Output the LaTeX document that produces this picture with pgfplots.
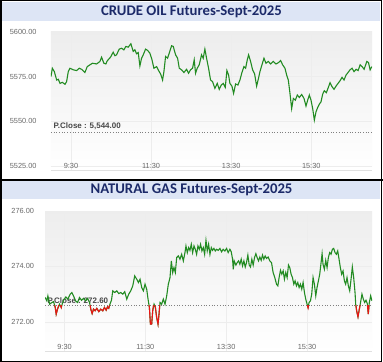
\documentclass[border=0pt]{standalone}
\usepackage{pgfplots}
\pgfplotsset{compat=1.18}
\usepackage{fontspec}
\setmainfont{Liberation Sans}
\newfontfamily\titlefont{Carlito}
\definecolor{barblue}{RGB}{221,229,245}
\definecolor{titlenavy}{RGB}{28,42,105}
\definecolor{linegreen}{RGB}{34,139,34}
\definecolor{linered}{RGB}{235,20,20}
\definecolor{ticktext}{RGB}{105,105,105}
\pgfplotsset{
  chartstyle/.style={
    scale only axis,
    axis background/.style={shade, top color=black!7, bottom color=white},
    axis x line*=bottom, axis y line*=left,
    x axis line style={draw=black!12},
    y axis line style={draw=none},
    major tick length=0pt,
    grid=major, major grid style={draw=black!7, line width=0.5pt},
    xtick={30,150,270,390},
    xticklabels={9:30,11:30,13:30,15:30},
    xticklabel style={anchor=center, yshift=4.5bp},
    tick label style={font=\fontsize{7.4}{8}\selectfont, text=ticktext},
    /pgf/number format/assume math mode=true,
    /pgf/number format/fixed,
    /pgf/number format/fixed zerofill,
    /pgf/number format/precision=2,
    /pgf/number format/1000 sep={},
  }
}
\begin{document}
\begin{tikzpicture}
\useasboundingbox (0,0) rectangle (383bp,362bp);
\fill[white] (0,0) rectangle (383bp,362bp);
% title bars
\fill[barblue] (2bp,341bp) rectangle (380bp,360bp);
\node[font=\titlefont\bfseries\fontsize{14.8}{16}\selectfont, text=titlenavy] at (191.5bp,350.5bp) {CRUDE OIL Futures-Sept-2025};
\fill[barblue] (2bp,163bp) rectangle (380bp,181bp);
\node[font=\titlefont\bfseries\fontsize{14.8}{16}\selectfont, text=titlenavy] at (191.5bp,172bp) {NATURAL GAS Futures-Sept-2025};

\begin{axis}[chartstyle, at={(51bp,192bp)}, anchor=south west, width=321bp, height=138bp,
  xmin=0, xmax=481, ymin=5522.7, ymax=5600, ytick={5525,5550,5575,5600},
  yticklabel style={xshift=-11bp}]
\node[anchor=south west, font=\fontsize{8}{9}\selectfont\bfseries, text=black!72, inner sep=0.5bp] at (axis cs:3,5544.6) {P.Close : 5,544.00};
\addplot[draw=black!50, dotted, line width=0.7pt] coordinates {(0,5544)(481,5544)};
\addplot[linegreen, line width=1.1pt] coordinates {
(0,5575.0)(2.0,5579.7)(5,5577.8)(8.5,5573.1)(11,5573.5)(13.5,5571.2)(17,5571.8)(21,5570.7)(23.4,5572.2)(25.9,5577.8)(28.4,5579.7)(33.4,5578.8)(38.4,5578.4)(42.4,5579.7)(45.9,5579.1)(50.8,5577.3)(54.3,5580.6)(58.3,5581.6)(62.3,5582.5)(68.3,5582.1)(73.3,5583.5)(75.8,5585.9)(79.2,5582.5)(82.2,5582.1)(84.2,5583.8)(89.2,5585.9)(93.2,5588.7)(95.7,5586.7)(98.2,5587.2)(102.2,5590.4)(105.7,5590.9)(109.2,5590.0)(112.2,5591.9)(115.7,5591.5)(119.7,5593.4)(123.2,5589.1)(125.7,5590.0)(128.2,5587.8)(130.7,5588.5)(133.2,5581.0)(135.7,5585.3)(138.2,5587.2)(141.7,5590.4)(144.7,5589.7)(148.1,5588.2)(151.1,5584.8)(154.2,5579.7)(158.2,5580.6)(161.2,5578.4)(164.2,5576.5)(167.2,5573.1)(169.2,5577.8)(171.7,5586.3)(174.7,5585.3)(177.2,5588.2)(180.7,5592.3)(183.2,5591.9)(186.7,5587.2)(189.7,5585.3)(192.2,5579.7)(195.7,5578.8)(199.2,5577.3)(203.1,5579.1)(206.1,5576.9)(209.1,5578.8)(212.1,5579.7)(214.6,5584.4)(216.6,5576.9)(219.1,5579.7)(222.1,5581.6)(225.6,5587.2)(228.1,5585.3)(230.6,5590.4)(233.1,5585.3)(236.1,5579.7)(239.1,5573.1)(242.1,5572.2)(245.6,5568.4)(249.1,5571.2)(252.1,5567.9)(255.1,5570.3)(258.1,5571.2)(261.1,5569.0)(263.6,5578.4)(266.1,5575.9)(268.1,5571.2)(271.1,5569.7)(273.6,5565.6)(276.6,5570.9)(280.1,5570.3)(283.1,5573.1)(286.1,5577.3)(289.1,5580.6)(291.6,5579.7)(294.1,5584.4)(296.1,5587.2)(299.1,5583.5)(302.1,5578.8)(305.1,5576.5)(308.1,5569.7)(310.6,5573.5)(313.1,5577.8)(316.1,5581.6)(319.1,5585.3)(322.1,5582.5)(325.6,5583.5)(329.1,5582.1)(333.1,5583.5)(337.1,5582.1)(341.1,5582.9)(344.1,5584.0)(347.1,5581.6)(350.6,5579.7)(353.1,5575.9)(355.6,5573.1)(358.1,5565.6)(360.6,5557.1)(363.1,5562.8)(366.1,5561.8)(369.1,5564.7)(372.1,5563.3)(375.6,5565.0)(379.1,5562.8)(382.1,5558.5)(384.6,5561.8)(387.1,5564.7)(389.6,5561.8)(392.1,5557.1)(394.6,5550.6)(397.1,5555.3)(399.6,5557.7)(402.1,5559.6)(404.6,5560.9)(407.1,5565.2)(409.6,5567.1)(412.6,5566.0)(415.6,5569.0)(418.1,5571.6)(421.1,5569.4)(424.1,5567.9)(427.1,5569.7)(430.1,5571.2)(433.1,5572.7)(436.1,5574.6)(439.1,5573.1)(442.1,5575.9)(445.1,5577.3)(448.1,5578.8)(451.1,5579.7)(454.1,5577.8)(457.2,5579.1)(460.2,5578.4)(463.2,5581.6)(466.2,5580.6)(469.2,5579.1)(473.2,5583.5)(475.7,5582.9)(478.2,5578.8)(480.7,5580.6)
};
\end{axis}

\begin{axis}[chartstyle, at={(45bp,11bp)}, anchor=south west, width=327bp, height=140bp,
  xmin=1, xmax=486.5, ymin=270.95, ymax=276, ytick={272,274,276},
  yticklabel style={xshift=-7.5bp}, unbounded coords=jump]
\node[anchor=south west, font=\fontsize{8}{9}\selectfont\bfseries, text=black!72, inner sep=0.5bp] at (axis cs:4,272.62) {P.Close : 272.60};
\addplot[draw=black!50, dotted, line width=0.7pt] coordinates {(1,272.6)(486.5,272.6)};
\addplot[linegreen, line width=1.1pt] coordinates {
(1.3,272.88)(3.8,272.76)(5.3,272.94)(7.8,272.64)(11.2,272.70)(13.7,272.73)(16.2,272.52)(17.6,272.28)(19.6,272.46)(22.6,272.64)(25.1,272.52)(26.5,272.64)(28.5,272.78)(32.0,272.90)(34.9,272.82)(38.4,273.00)(40.9,273.06)(43.3,272.94)(46.3,272.76)(49.3,272.70)(52.2,272.88)(55.2,272.78)(58.2,272.85)(61.1,272.76)(64.1,272.85)(67.1,272.70)(69.0,272.46)(71.0,272.30)(73.0,272.46)(75.4,272.40)(77.9,272.49)(80.9,272.37)(83.8,272.46)(86.8,272.40)(89.3,272.52)(91.8,272.42)(93.7,272.54)(95.7,272.49)(97.7,272.66)(99.7,272.78)(101.6,273.12)(104.6,273.06)(107.6,273.12)(110.5,273.02)(113.5,273.06)(116.5,273.00)(119.4,273.09)(122.4,272.82)(125.3,273.00)(128.3,273.12)(131.3,273.30)(134.2,273.66)(137.2,273.54)(139.7,273.42)(142.1,273.54)(144.6,273.24)(147.1,273.12)(149.5,273.36)(152.0,273.18)(154.0,272.82)(156.0,272.52)(157.5,271.92)(159.4,271.92)(160.9,272.40)(162.9,272.64)(164.9,272.52)(166.8,272.16)(168.8,271.92)(170.3,272.28)(171.8,272.70)(174.2,272.64)(176.7,272.82)(179.2,272.64)(181.7,272.94)(184.1,273.36)(186.6,273.60)(188.6,274.20)(190.6,273.78)(192.5,273.96)(194.5,273.78)(196.5,274.32)(199.0,274.38)(201.4,274.26)(203.9,274.44)(206.4,274.20)(208.8,274.50)(210.3,274.74)(212.3,274.50)(214.3,274.68)(216.2,274.58)(218.2,274.80)(220.2,274.50)(222.2,274.74)(224.1,274.62)(226.1,274.44)(228.1,274.74)(230.1,274.62)(232.0,274.80)(234.0,274.56)(236.0,274.68)(238.0,274.44)(240.0,274.94)(241.9,274.56)(243.9,274.80)(245.9,274.44)(247.9,274.68)(249.8,274.58)(251.8,274.65)(253.8,274.56)(255.8,274.62)(258.2,274.58)(260.7,274.65)(263.2,274.53)(265.6,274.62)(268.1,274.56)(270.6,274.65)(273.0,274.50)(275.5,274.62)(277.5,274.53)(279.5,274.26)(280.5,273.90)(281.9,274.20)(284.4,274.05)(286.4,274.14)(288.4,274.20)(290.3,274.08)(292.3,274.26)(294.3,274.02)(296.3,274.20)(298.3,273.98)(300.2,274.14)(302.2,274.41)(304.2,274.05)(306.1,273.98)(308.1,274.26)(310.1,274.05)(312.1,274.32)(314.1,274.46)(316.0,274.32)(318.0,274.20)(320.0,274.34)(322.0,274.22)(323.9,274.41)(325.9,274.26)(327.9,274.38)(329.9,274.29)(332.3,274.34)(334.8,274.20)(337.3,274.14)(339.7,273.78)(342.2,273.60)(344.7,273.36)(346.7,273.30)(348.6,273.60)(350.6,273.86)(352.6,273.72)(354.6,273.84)(356.5,273.54)(358.5,273.78)(360.5,273.60)(362.5,274.05)(364.4,273.96)(366.4,273.72)(368.4,273.60)(370.4,273.36)(372.3,273.48)(374.3,273.30)(376.3,273.42)(378.3,273.24)(380.2,273.36)(382.2,273.18)(384.2,273.42)(386.2,273.06)(388.1,272.82)(390.1,272.64)(391.6,272.52)(393.1,272.70)(395.1,272.76)(397.0,273.00)(399.0,273.60)(401.0,273.36)(403.0,272.94)(404.9,273.24)(406.9,273.48)(408.9,273.72)(410.9,274.14)(412.4,274.46)(413.8,274.08)(415.8,273.90)(417.8,274.22)(419.8,273.96)(421.7,274.32)(423.7,274.50)(425.7,274.44)(427.7,274.62)(429.6,274.65)(431.6,274.50)(433.6,274.44)(435.6,274.56)(437.6,274.26)(439.5,273.96)(441.5,273.72)(443.5,273.84)(445.5,273.48)(447.4,273.36)(449.4,273.60)(451.4,273.30)(453.4,273.12)(455.4,273.54)(457.3,273.98)(459.3,273.60)(461.3,273.06)(462.3,272.64)(463.7,272.40)(465.7,272.18)(467.7,272.46)(469.7,272.73)(471.6,273.00)(473.6,272.82)(475.6,272.70)(477.6,272.78)(479.5,272.66)(481.0,272.28)(482.5,272.70)(484.5,272.94)(486.4,272.76)
};
\addplot[linered, line width=1.1pt] coordinates {
(15.4,272.6)(16.2,272.52)(17.6,272.28)(19.6,272.46)(21.5,272.6)(nan,nan)
(24.0,272.6)(25.1,272.52)(25.8,272.6)(nan,nan)
(68.0,272.6)(69.0,272.46)(71.0,272.30)(73.0,272.46)(75.4,272.40)(77.9,272.49)(80.9,272.37)(83.8,272.46)(86.8,272.40)(89.3,272.52)(91.8,272.42)(93.7,272.54)(95.7,272.49)(96.8,272.6)(nan,nan)
(155.3,272.6)(156.0,272.52)(157.5,271.92)(159.4,271.92)(160.9,272.40)(162.0,272.6)(nan,nan)
(164.0,272.6)(164.9,272.52)(166.8,272.16)(168.8,271.92)(170.3,272.28)(171.3,272.6)(nan,nan)
(390.5,272.6)(391.6,272.50)(392.4,272.6)(nan,nan)
(462.6,272.6)(463.7,272.40)(465.7,272.18)(467.7,272.46)(468.8,272.6)(nan,nan)
(479.8,272.6)(481.0,272.28)(482.0,272.6)
};
\end{axis}
% frame
\fill[black] (0,180.5bp) rectangle (383bp,182.5bp);
\draw[black, line width=1.5bp] (0.75bp,0.75bp) rectangle (381.5bp,361.25bp);
\end{tikzpicture}
\end{document}
